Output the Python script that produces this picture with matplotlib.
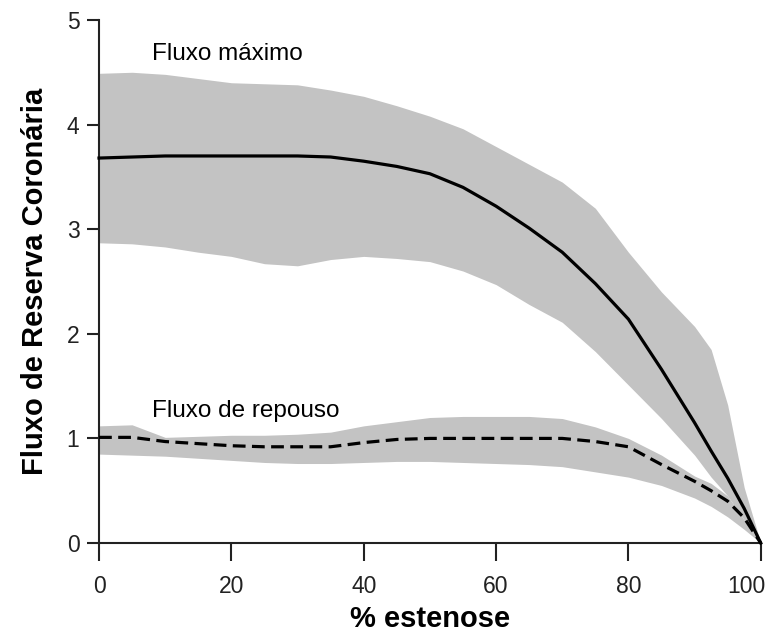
import matplotlib
matplotlib.use("Agg")
import matplotlib.pyplot as plt
import matplotlib.transforms as mtransforms

plt.rcParams['font.family'] = ['Liberation Sans', 'DejaVu Sans']

# % stenosis grid
estenose = [0, 5, 10, 15, 20, 25, 30, 35, 40, 45, 50, 55, 60, 65, 70, 75, 80, 85, 90, 92.5, 95, 97.5, 100]

# maximal flow: mean and band
max_mean = [3.68, 3.69, 3.70, 3.70, 3.70, 3.70, 3.70, 3.69, 3.65, 3.60, 3.53, 3.40, 3.22, 3.01, 2.78, 2.48, 2.14,
            1.66, 1.15, 0.88, 0.62, 0.33, 0.0]
max_upper = [4.49, 4.50, 4.48, 4.44, 4.40, 4.39, 4.38, 4.33, 4.27, 4.18, 4.08, 3.96, 3.79, 3.62, 3.45, 3.20, 2.78,
             2.40, 2.07, 1.85, 1.32, 0.53, 0.0]
max_lower = [2.87, 2.86, 2.83, 2.78, 2.74, 2.67, 2.65, 2.71, 2.74, 2.72, 2.69, 2.60, 2.47, 2.28, 2.11, 1.83, 1.51,
             1.19, 0.84, 0.63, 0.45, 0.22, 0.0]

# resting flow: mean and band
rep_mean = [1.01, 1.01, 0.97, 0.95, 0.93, 0.92, 0.92, 0.92, 0.96, 0.99, 1.00, 1.00, 1.00, 1.00, 1.00, 0.97, 0.92,
            0.75, 0.59, 0.50, 0.40, 0.24, 0.0]
rep_upper = [1.12, 1.13, 1.01, 1.02, 1.03, 1.03, 1.04, 1.06, 1.12, 1.16, 1.20, 1.21, 1.21, 1.21, 1.19, 1.11, 1.00,
             0.84, 0.64, 0.57, 0.45, 0.22, 0.0]
rep_lower = [0.85, 0.84, 0.83, 0.81, 0.79, 0.77, 0.76, 0.76, 0.77, 0.78, 0.78, 0.77, 0.76, 0.75, 0.73, 0.68, 0.63,
             0.55, 0.43, 0.35, 0.25, 0.13, 0.0]

xticks = [0, 20, 40, 60, 80, 100]
yticks = [0, 1, 2, 3, 4, 5]

fig = plt.figure(figsize=(7.7, 6.34), dpi=100)
ax = fig.add_axes([0.1286, 0.1435, 0.8594, 0.825])

band = '#c3c3c3'
ax.fill_between(estenose, max_lower, max_upper, color=band, linewidth=0, zorder=1)
ax.fill_between(estenose, rep_lower, rep_upper, color=band, linewidth=0, zorder=1)
ax.plot(estenose, max_mean, color='black', linewidth=2.3, zorder=3, clip_on=False)
ax.plot(estenose, rep_mean, color='black', linewidth=2.3, linestyle=(0, (4, 2)), zorder=3, clip_on=False)

ax.text(8.0, 4.67, 'Fluxo máximo', fontsize=17.5, va='center', ha='left')
ax.text(8.0, 1.26, 'Fluxo de repouso', fontsize=17.5, va='center', ha='left')

ax.set_xlim(0, 100)
ax.set_ylim(0, 5)
ax.set_xticks(xticks)
ax.set_yticks(yticks)
ax.spines['top'].set_visible(False)
ax.spines['right'].set_visible(False)
for s in ['left', 'bottom']:
    ax.spines[s].set_linewidth(1.5)
    ax.spines[s].set_color('#222222')
ax.tick_params(axis='x', length=13, width=1.5, pad=10, labelsize=16.5, colors='#222222')
ax.tick_params(axis='y', length=8.6, width=1.5, pad=5.5, labelsize=16.5, colors='#222222')

# last x label sits a bit left of its tick, as in the original
last = ax.get_xticklabels()[-1]
last.set_transform(last.get_transform() + mtransforms.ScaledTranslation(-14 / 100, 0, fig.dpi_scale_trans))

ax.set_xlabel('% estenose', fontsize=21, fontweight='bold', labelpad=5)
ax.set_ylabel('Fluxo de Reserva Coronária', fontsize=21, fontweight='bold', labelpad=13)

fig.savefig('out.png', dpi=100)
